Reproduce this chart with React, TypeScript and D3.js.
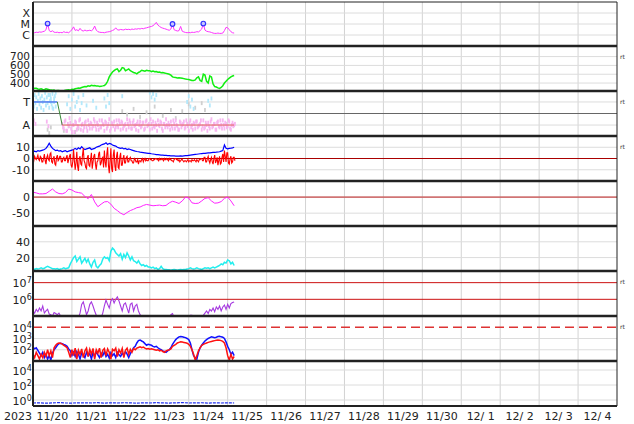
import React from 'react';
import * as d3 from 'd3';

// ---------------- DATA (hours from 2023-11-20 00:00 UTC) ----------------
const dayLabels = ['11/20','11/21','11/22','11/23','11/24','11/25','11/26','11/27','11/28','11/29','11/30','12/ 1','12/ 2','12/ 3','12/ 4'];
const yearLabel = '2023';

// X-ray flux, 1h step, units of 1e-6 W/m2
const xrayE6 = [
  1.7,1.6,1.8,1.7,1.9,1.8,2.0,2.2,3.0,11,
  2.5,2.0,2.4,1.8,1.7,1.8,1.6,1.7,1.6,2.0,
  1.7,1.8,1.6,2.2,3.0,5.5,2.6,3.0,2.4,4.0,
  2.6,2.3,2.8,2.4,2.5,2.7,2.4,3.2,6.5,2.8,
  2.0,1.8,1.7,1.7,1.6,1.8,1.9,2.0,2.2,2.6,
  3.0,4.5,3.0,2.8,3.2,3.0,2.9,3.4,3.1,3.3,
  3.0,3.5,3.2,3.6,3.4,3.8,3.5,4.0,3.7,4.2,
  4.5,5.0,5.5,6.0,7.0,9.5,14,8.0,6.0,4.8,
  4.2,3.8,3.4,3.0,2.7,3.5,9.5,3.0,2.6,2.3,
  2.5,6.0,2.2,1.9,1.7,1.6,1.7,1.6,1.8,1.7,
  1.8,2.0,1.9,2.5,3.5,11,2.8,2.2,2.0,1.9,
  1.7,1.5,1.4,1.4,1.5,1.4,1.4,1.5,2.5,5.0,
  4.5,3.0,2.0,1.6,1.5];
const flareHours = [9, 86, 105];
const flareE6 = [11, 10, 11];

// Solar wind speed km/s, 1h step
const speed = [
  335,342,340,332,330,336,328,325,335,330,
  325,320,318,322,312,316,315,308,305,312,
  318,322,325,320,330,328,335,340,345,342,
  350,355,360,358,368,365,375,370,372,368,
  368,362,365,368,372,390,420,470,500,525,
  540,555,560,530,545,575,570,540,550,560,
  540,530,520,515,505,520,530,545,540,535,
  545,540,540,530,535,528,530,522,525,518,
  520,515,510,505,500,490,470,465,462,458,
  460,458,455,450,445,442,440,435,430,428,
  435,460,470,430,420,500,490,420,400,480,
  470,390,360,355,345,340,350,370,400,420,
  440,455,470,480,485];

// IMF sector scatter (T = +1, A = -1)
const sectorTowardEarly = [
  1.2,0.6,1.6,0.9,1.4,0.4,1.1,1.7,0.8,1.3,0.5,1.5,1.0,0.3,1.2,1.8,
  0.7,1.4,0.9,1.6,0.5,1.1,1.3,0.8,1.7,0.4,1.0,1.5,0.6];
const sectorToward = [
  [10.5,1.6],[11,1.0],[12,0.5],[13,1.3],[14,1.8],
  [21,0.8],[22,1.5],[23,0.4],[24,1.2],[25,1.7],[26,0.6],[27,1.0],[28,1.4],[29,0.3],[30,0.9],[31,1.6],[33,0.7],
  [37,1.1],[39,0.5],[44,1.3],[45,0.6],[46,1.6],[47,0.9],[55,1.5],
  [72,1.8],[73,1.4],[74,1.7],[75,1.2],[76,1.6],
  [95,1.0],[96,1.5],[97,0.6],[98,1.2],[99,0.4],[108,1.1],[109,0.7],[110,1.3]];
const sectorAwayEarly = [[0.5,-0.6],[1.5,-0.9],[8.5,-0.7],[9.5,-1.1]];
const sectorAwayA = [
  -0.9,-1.3,-0.6,-1.5,-1.1,-0.8,-1.6,-1.0,-0.7,-1.4,
  -1.2,-0.5,-1.0,-1.5,-0.8,-1.2,-0.6,-1.3,-0.9,-1.1,
  -0.7,-1.4,-1.0,-0.6,-1.2,-0.9,-1.5,-0.8,-1.1,-0.5,
  -1.3,-0.9,-0.7,-1.2,-1.0,-0.6,-1.4,-0.8,-1.1,-0.9,
  -0.5,-1.2,-0.8,-1.3,-0.6,-1.0,-0.9,-1.5,-0.7,-1.1,
  -0.8,-1.3,-0.6,-1.0,-1.4,-0.9,-0.7,-1.2,-1.0,-0.6,
  -1.1,-0.8,-1.5,-0.9,-0.5,-1.2,-1.0,-0.7,-1.3,-0.9,
  -0.6,-1.1,-1.4,-0.8,-1.0,-0.7,-1.2,-0.9,-1.5,-0.6,
  -1.0,-0.8,-1.3,-0.7,-1.1,-0.9,-1.4,-0.6,-1.2,-1.0,
  -0.8,-1.3,-0.5,-1.1,-0.9,-1.4,-0.7,-1.2,-1.0,-0.6,
  -1.3,-0.9,-1.1,-0.7,-1.4,-0.8,-1.0];
const sectorAwayB = [
  -1.2,-0.7,-1.5,-0.9,-0.4,-1.3,-1.0,-1.6,-0.8,-1.1,
  -0.6,-1.4,-0.9,-1.2,-0.7,-1.5,-1.0,-0.8,-1.3,-0.5,
  -1.1,-0.8,-1.4,-1.2,-0.6,-1.0,-0.7,-1.3,-0.9,-1.5,
  -0.8,-1.1,-1.4,-0.6,-1.2,-0.9,-0.7,-1.3,-1.0,-1.4,
  -0.9,-0.6,-1.3,-0.8,-1.1,-1.4,-0.7,-1.0,-1.2,-0.8,
  -1.4,-0.7,-1.1,-0.9,-0.5,-1.3,-1.1,-0.8,-1.5,-1.0,
  -0.7,-1.3,-0.9,-1.2,-1.0,-0.8,-1.4,-1.1,-0.6,-1.3,
  -1.0,-1.4,-0.7,-1.2,-0.9,-1.3,-0.6,-1.1,-0.8,-1.2,
  -1.4,-0.9,-0.7,-1.2,-1.0,-0.6,-1.1,-1.3,-0.8,-1.5,
  -1.1,-0.7,-1.2,-0.9,-1.4,-0.8,-1.1,-0.6,-1.3,-1.0,
  -0.8,-1.2,-0.6,-1.3,-1.0,-1.1,-0.9];
const sectorGray = [[9,-1.4],[10,-1.7],[11,-1.2],[19,-1.5],[22,-1.1],[26,-1.6],[28,-1.3],[55,0.2],[58,-0.1],[62,0.4],[66,-0.3],[70,0.1],[75,0.6],[80,-0.2],[85,0.3],[88,-0.4],[92,0.2],[96,0.8],[100,0.5],[104,0.9],[106,0.3]];
const sectorStateT = [[0,1],[15,1]];
const sectorStateChange = [[15,1],[18,-1]];
const sectorStateA = [[18,-1],[124,-1]];

// IMF Bt (nT), 1h step
const bt = [
  6,6.5,6,7,6.5,7,7.5,8,9,11,
  13.5,11,9,8,7,7.5,6.5,7,6,6.5,
  7,6,6.5,7,7.5,8,9,8,9.5,8.5,
  10.5,9,8,8.5,9,9.5,8,8.5,9,10,
  10.5,11,12,12.5,13,14,12.5,13.5,13,12,
  11.5,11,10,9.5,9,9.5,8.5,9,8,8.5,
  8,7.5,7,6.5,6.2,6,5.6,5.4,5.2,5,
  4.8,4.6,4.5,4.2,4,3.8,3.5,3.4,3.2,3,
  3,2.8,2.8,2.6,2.5,2.4,2.3,2.4,2.2,2.2,
  2.2,2.3,2.2,2.4,2.5,2.6,2.8,3,3.2,3.4,
  3.6,3.8,4,4.2,4.4,4.5,4.6,4.8,5,5,
  5.2,5.4,5.5,5.6,5.8,6,6.5,7,12,9,
  8.5,9,9.2,9.5,10];
// IMF Bz (nT), 30 min step
const bz = [
  0,-2, 2,0, -1,1, 3,-1, -2,2, 1,-3, -3,0, 4,-2, -5,1, 3,-1,
  -2,4, 5,-3, -4,0, 2,-5, -6,1, 3,-2, -1,2, 2,-3, -3,0, 1,-2,
  -2,1, 3,-4, -1,2, 4,-6, -8,-3, 8,-2, -10,-4, 6,-7, -11,0, 2,-5,
  -6,3, 9,-2, -4,-8, -9,1, 3,-6, -7,-1, 5,-9, -3,2, 4,-5, -10,-3,
  -2,4, 6,-6, -4,0, 1,-8, 7,-3, -8,4, 10,-6, -13,-2, 9,-9, -12,3,
  8,-7, -11,2, 6,-8, -9,1, 5,-6, -6,0, 3,-4, -4,1, 2,-3, -3,0,
  1,-2, -2,-4, -4,0, -1,-3, -3,-1, -5,-2, -2,-3, -1,0, -3,-1, 0,-2,
  -1,-2, -2,0, 0,-1, -1,-2, -2,-1, -1,0, 0,-1, -1,-2, 0,-1, -1,0,
  -1,-2, 0,-1, -1,0, -1,-2, 0,-1, -1,-2, -2,-3, -1,0, 0,-1, -1,-2,
  -1,-3, -2,-1, -1,-2, -3,-2, -2,-3, -2,-1, -3,-2, -2,-3, -1,-2, -2,-1,
  -2,-3, -1,-2, -3,-1, -1,0, 0,-2, -2,1, 1,-3, -3,0, 2,-2, -4,-1,
  1,-3, -5,0, 3,-4, -2,1, -6,-2, 2,-5, -4,1, 4,-3, 7,2, -3,5,
  5,-4, -5,0, 2,-4, -3,1, 1,-2];

// Dst (nT), 2h step
const dst = [
  15,13,10,10,11,18,25,16,11,10,
  14,25,22,16,14,12,2,-5,8,-15,
  -30,-22,-15,-14,-22,-35,-42,-50,-55,-48,
  -42,-38,-33,-31,-26,-23,-25,-27,-26,-25,
  -27,-26,-18,-13,-16,-20,-12,0,-3,-18,
  -20,-19,-12,-4,-2,-12,-19,-18,-14,-4,
  0,-12,-27];

// Solar wind density (/cc), 1h step
const density = [
  6,5,6,5.5,6,7,6,6.5,8,
  9,8,7,6,
  6,5.5,6,5,5.5,6,7,6,6.5,7,
  12,16,20,22,15,18,21,13,16,19,14,
  18,12,8,14,17,9,7,10,12,
  18,21,19,20,16,
  28,32,30,26,24,
  22,25,18,24,20,26,22,17,21,16,
  15,13,16,12,10,11,9,10,8,8,
  7,8,6,7,5,6,9,6,5,5,
  4.5,4.5,4,4.5,5,4.5,4,4.5,5,4.5,4.8,5,5.5,
  6,7,6,5.5,6,7,6,5.5,5,6,7,6.5,7,6,7,8,
  7,8,9,10,12,11,14,13,17,16,12,14,10];

// >2 MeV electron flux, 1h step
const electrons = [
  2e5,1.5e5,2.5e5,1.8e5,3e5,2e5,4e5,1.5e5,2e5,2.5e5,
  1.3e5,1.2e5,1e5,1.6e5,1.4e5,1.2e5,1.5e5,1e5,8e4,7e4,
  6e4,7e4,6e4,5e4,6e4,7e4,6e4,7e4,8e4,1.5e5,
  5e5,7e5,3e5,1.2e5,2e5,5e5,7e5,4e5,2e5,1.1e5,
  8e4,7e4,8e4,1.5e5,4e5,9e5,5e5,3e5,8e5,1.1e6,
  6e5,1e6,1.4e6,8e5,4e5,2e5,5e5,6e5,3e5,1.5e5,
  5e5,6e5,2e5,4e5,5e5,2e5,1.2e5,9e4,8e4,7e4,
  6e4,6e4,5e4,6e4,5e4,6e4,5e4,6e4,5e4,6e4,
  5e4,6e4,5e4,7e4,8e4,1.2e5,1.4e5,8e4,6e4,5e4,
  6e4,5e4,6e4,5e4,6e4,7e4,8e4,1.1e5,1.1e5,8e4,
  6e4,5e4,6e4,7e4,8e4,1.1e5,1.5e5,2e5,1.4e5,2.5e5,
  2e5,3e5,1.8e5,3.5e5,2.5e5,4e5,2e5,3.5e5,4.5e5,2.5e5,
  5e5,3e5,5.5e5,6.5e5,7e5];

// Proton flux, 1h step
const protonBlue = [
  180,120,150,90,50,30,60,20,40,15,
  30,12,50,100,150,250,350,380,350,300,
  260,200,120,80,30,60,25,70,40,15,
  50,35,20,60,30,45,15,55,25,70,
  35,20,50,30,65,25,40,18,55,30,
  45,20,60,35,25,50,30,70,40,20,
  45,80,150,200,400,650,740,600,500,350,
  250,300,280,250,200,180,200,150,120,100,
  80,70,60,80,100,150,300,500,800,1100,
  1400,1500,1400,1300,1200,1000,800,400,100,30,
  20,15,60,150,250,400,600,800,1000,1200,
  1400,1300,1200,1300,1500,1600,1400,1300,1000,500,
  200,100,40,60,30];
const protonRed = [
  40,20,60,30,15,40,20,60,25,100,
  30,80,20,150,250,350,400,380,320,250,
  200,150,60,20,100,30,140,15,90,40,
  120,20,80,140,25,110,40,130,15,100,
  50,140,20,90,130,30,120,60,15,110,
  80,140,25,100,50,130,20,90,140,40,
  110,60,130,100,140,160,180,150,170,140,
  120,130,110,120,110,100,90,100,80,90,
  70,60,80,90,100,120,200,250,300,400,
  450,500,480,450,420,380,300,200,100,40,
  12,30,80,150,250,300,350,400,450,500,
  550,600,650,700,750,700,650,550,400,150,
  30,12,40,15,25];

// low-level flux, 4h step
const lowFlux = [0.4,0.42,0.38,0.41,0.45,0.4,0.39,0.43,0.41,0.4,0.44,0.39,0.42,0.4,0.43,0.41,0.38,0.42,0.4,0.44,0.41,0.39,0.42,0.45,0.4,0.41,0.43,0.39,0.42,0.4,0.41,0.4];

// ---------------- LAYOUT ----------------
const W = 634, H = 424;
const L = 33, R = 617;
const tops = [2, 46, 91, 136, 181, 226, 271, 316, 361];
const bots = [46, 91, 136, 181, 226, 271, 316, 361, 406];
const FONT = 'DejaVu Sans, sans-serif';
const TICK_FS = 11;

const START = Date.UTC(2023, 10, 20);
const HOUR = 3600e3;
const tAt = (h: number) => new Date(START + h * HOUR);
type Pt = { t: Date; v: number };
const series = (vals: number[], step: number, off = 0): Pt[] => vals.map((v, i) => ({ t: tAt(off + i * step), v }));
const pairs = (arr: number[][]): Pt[] => arr.map(([h, v]) => ({ t: tAt(h), v }));

const x = d3.scaleUtc().domain([tAt(0), tAt(15 * 24)]).range([L, R]);

const y0 = d3.scaleLog().domain([1e-7, 1e-3]).range([bots[0], tops[0]]);
const y1 = d3.scaleLinear().domain([310, 820]).range([bots[1], tops[1]]);
const y2 = d3.scaleLinear().domain([-1.95, 1.95]).range([bots[2], tops[2]]);
const y3 = d3.scaleLinear().domain([-20, 20]).range([bots[3], tops[3]]);
const y4 = d3.scaleLinear().domain([-90, 50]).range([bots[4], tops[4]]);
const y5 = d3.scaleLinear().domain([3, 60]).range([bots[5], tops[5]]);
const y6 = d3.scaleLog().domain([1e5, 5e7]).range([bots[6], tops[6]]);
const y7 = d3.scaleLog().domain([10, 1e5]).range([bots[7], tops[7]]);
const y8 = d3.scaleLog().domain([Math.pow(10, -0.8), Math.pow(10, 5.2)]).range([bots[8], tops[8]]);

const path = (data: Pt[], ys: any) => d3.line<Pt>().x(d => x(d.t)).y(d => ys(d.v))(data) || '';

const Grid = ({ ys, vals, color = '#dcdcdc', w = 1, dash }: any) => (
  <g>
    {vals.map((v: number, i: number) => (
      <line key={i} x1={L} x2={R} y1={ys(v)} y2={ys(v)} stroke={color} strokeWidth={w} strokeDasharray={dash} />
    ))}
  </g>
);

const Lbl = ({ y, text, fs = TICK_FS }: { y: number; text: string; fs?: number }) => (
  <text x={30} y={y + fs * 0.36} textAnchor="end" fontSize={fs} fill="#222" fontFamily={FONT}>{text}</text>
);
const Pow = ({ y, e }: { y: number; e: string }) => (
  <g>
    <text x={26.5} y={y + 4.5} textAnchor="end" fontSize={TICK_FS} fill="#222" fontFamily={FONT}>10</text>
    <text x={26.8} y={y + 0.5} textAnchor="start" fontSize={8} fill="#222" fontFamily={FONT}>{e}</text>
  </g>
);
const Rt = ({ i }: { i: number }) => (
  <text x={620} y={tops[i] + 13} fontSize={6} fill="#333" fontFamily={FONT}>rt</text>
);
const Dot = ({ d, ys, color }: any) => (
  <rect x={x(d.t) - 0.9} y={ys(d.v) - 2} width={1.8} height={4} fill={color} />
);

export default function App() {
  const days = d3.range(16).map(i => tAt(i * 24));
  const xr = series(xrayE6.map(v => v * 1e-6), 1);
  const sTow = [...series(sectorTowardEarly, 0.5), ...pairs(sectorToward)];
  const sAw = [...pairs(sectorAwayEarly), ...series(sectorAwayA, 1, 18), ...series(sectorAwayB, 1, 18.5)];
  const sG = pairs(sectorGray);

  return (
    <svg width={W} height={H} style={{ position: 'absolute', left: 0, top: 0, background: '#fff' }}>
      <defs>
        {tops.map((t, i) => (
          <clipPath id={`cp${i}`} key={i}><rect x={L} y={t} width={R - L} height={bots[i] - t} /></clipPath>
        ))}
      </defs>
      <rect x={0} y={0} width={W} height={H} fill="#fff" />
      {days.slice(1, 15).map((d, i) => (
        <line key={i} x1={x(d)} x2={x(d)} y1={tops[0]} y2={bots[8]} stroke="#d3d3d3" strokeWidth={1} />
      ))}

      {/* Panel 0: X-ray */}
      <Grid ys={y0} vals={[1e-6, 1e-5, 1e-4]} />
      <g clipPath="url(#cp0)">
        <path d={path(xr, y0)} fill="none" stroke="#ff33ff" strokeWidth={1} />
        {flareHours.map((h, i) => (
          <circle key={i} cx={x(tAt(h))} cy={y0(flareE6[i] * 1e-6)} r={2.3} fill="#c8c8ff" stroke="#3333ff" strokeWidth={1.2} />
        ))}
      </g>

      {/* Panel 1: speed */}
      <Grid ys={y1} vals={[400, 500, 600, 700]} />
      <g clipPath="url(#cp1)">
        <path d={path(series(speed, 1), y1)} fill="none" stroke="#11ee11" strokeWidth={1.5} />
      </g>

      {/* Panel 2: sector */}
      <Grid ys={y2} vals={[1, -1]} />
      <line x1={L} x2={R} y1={y2(0)} y2={y2(0)} stroke="#666" strokeWidth={1} />
      <g clipPath="url(#cp2)">
        {sG.map((d, i) => <Dot key={'g' + i} d={d} ys={y2} color="#cfcfcf" />)}
        {sAw.map((d, i) => <Dot key={'p' + i} d={d} ys={y2} color="#f7b6f0" />)}
        {sTow.map((d, i) => <Dot key={'b' + i} d={d} ys={y2} color="#b3e8fb" />)}
        <path d={path(pairs(sectorStateT), y2)} fill="none" stroke="#4d79f0" strokeWidth={1.5} />
        <path d={path(pairs(sectorStateChange), y2)} fill="none" stroke="#3a8a3a" strokeWidth={1} />
        <path d={path(pairs(sectorStateA), y2)} fill="none" stroke="#e55b5b" strokeWidth={1} />
      </g>

      {/* Panel 3: IMF */}
      <Grid ys={y3} vals={[10, -10]} />
      <line x1={L} x2={R} y1={y3(0)} y2={y3(0)} stroke="#aa0000" strokeWidth={1} />
      <g clipPath="url(#cp3)">
        <path d={path(series(bt, 1), y3)} fill="none" stroke="#0000ff" strokeWidth={1.2} />
        <path d={path(series(bz, 0.5), y3)} fill="none" stroke="#ff0000" strokeWidth={1.1} />
      </g>

      {/* Panel 4: Dst */}
      <Grid ys={y4} vals={[-50]} />
      <line x1={L} x2={R} y1={y4(0)} y2={y4(0)} stroke="#cc6666" strokeWidth={1.8} opacity={0.9} />
      <g clipPath="url(#cp4)">
        <path d={path(series(dst, 2), y4)} fill="none" stroke="#ff22ff" strokeWidth={1} />
      </g>

      {/* Panel 5: density */}
      <Grid ys={y5} vals={[20, 40]} />
      <g clipPath="url(#cp5)">
        <path d={path(series(density, 1), y5)} fill="none" stroke="#22eeee" strokeWidth={1.5} />
      </g>

      {/* Panel 6: electrons */}
      <Grid ys={y6} vals={[1e6, 1e7]} color="#cc1111" />
      <g clipPath="url(#cp6)">
        <path d={path(series(electrons, 1), y6)} fill="none" stroke="#a63ae0" strokeWidth={1.1} />
      </g>

      {/* Panel 7: protons */}
      <Grid ys={y7} vals={[1e2, 1e3]} />
      <Grid ys={y7} vals={[1e4]} color="#dd3333" w={1.5} dash="9,5" />
      <g clipPath="url(#cp7)">
        <path d={path(series(protonBlue, 1), y7)} fill="none" stroke="#1111ff" strokeWidth={1.5} />
        <path d={path(series(protonRed, 1), y7)} fill="none" stroke="#ff1111" strokeWidth={1.5} />
      </g>

      {/* Panel 8 */}
      <Grid ys={y8} vals={[1e0, 1e2, 1e4]} />
      <g clipPath="url(#cp8)">
        <path d={path(series(lowFlux, 4), y8)} fill="none" stroke="#2233ee" strokeWidth={1.2} strokeDasharray="3,1" />
      </g>

      {/* frames */}
      <line x1={L} x2={R} y1={tops[0]} y2={tops[0]} stroke="#222" strokeWidth={1} />
      {bots.slice(0, 8).map((b, i) => (
        <line key={i} x1={L} x2={R} y1={b} y2={b} stroke="#222" strokeWidth={2.5} />
      ))}
      <line x1={L} x2={R} y1={bots[8]} y2={bots[8]} stroke="#222" strokeWidth={2} />
      <line x1={L} x2={L} y1={tops[0]} y2={bots[8]} stroke="#222" strokeWidth={2} />
      <line x1={R} x2={R} y1={tops[0]} y2={bots[8]} stroke="#222" strokeWidth={1} />

      {/* y labels */}
      <Lbl y={y0(1e-4)} text="X" />
      <Lbl y={y0(1e-5)} text="M" />
      <Lbl y={y0(1e-6)} text="C" />
      {[400, 500, 600, 700].map(v => <Lbl key={v} y={y1(v)} text={String(v)} fs={10.5} />)}
      <Lbl y={y2(1)} text="T" />
      <Lbl y={y2(-1)} text="A" />
      <Lbl y={y3(10)} text="10" />
      <Lbl y={y3(0)} text="0" />
      <Lbl y={y3(-10)} text="-10" />
      <Lbl y={y4(0)} text="0" />
      <Lbl y={y4(-50)} text="-50" />
      <Lbl y={y5(40)} text="40" />
      <Lbl y={y5(20)} text="20" />
      <Pow y={y6(1e7)} e="7" />
      <Pow y={y6(1e6)} e="6" />
      <Pow y={y7(1e4)} e="4" />
      <Pow y={y7(1e3)} e="3" />
      <Pow y={y7(1e2)} e="2" />
      <Pow y={y8(1e4)} e="4" />
      <Pow y={y8(1e2)} e="2" />
      <Pow y={y8(1e0)} e="0" />

      {[1, 2, 3, 6, 7].map(i => <Rt key={i} i={i} />)}

      {/* x labels */}
      <text x={18} y={420} textAnchor="middle" fontSize={11} fill="#222" fontFamily={FONT}>{yearLabel}</text>
      {dayLabels.map((lab, i) => (
        <text key={lab} x={x(tAt(i * 24 + 12))} y={420} textAnchor="middle" fontSize={11} fill="#222" fontFamily={FONT} style={{ whiteSpace: 'pre' }}>{lab}</text>
      ))}
    </svg>
  );
}
